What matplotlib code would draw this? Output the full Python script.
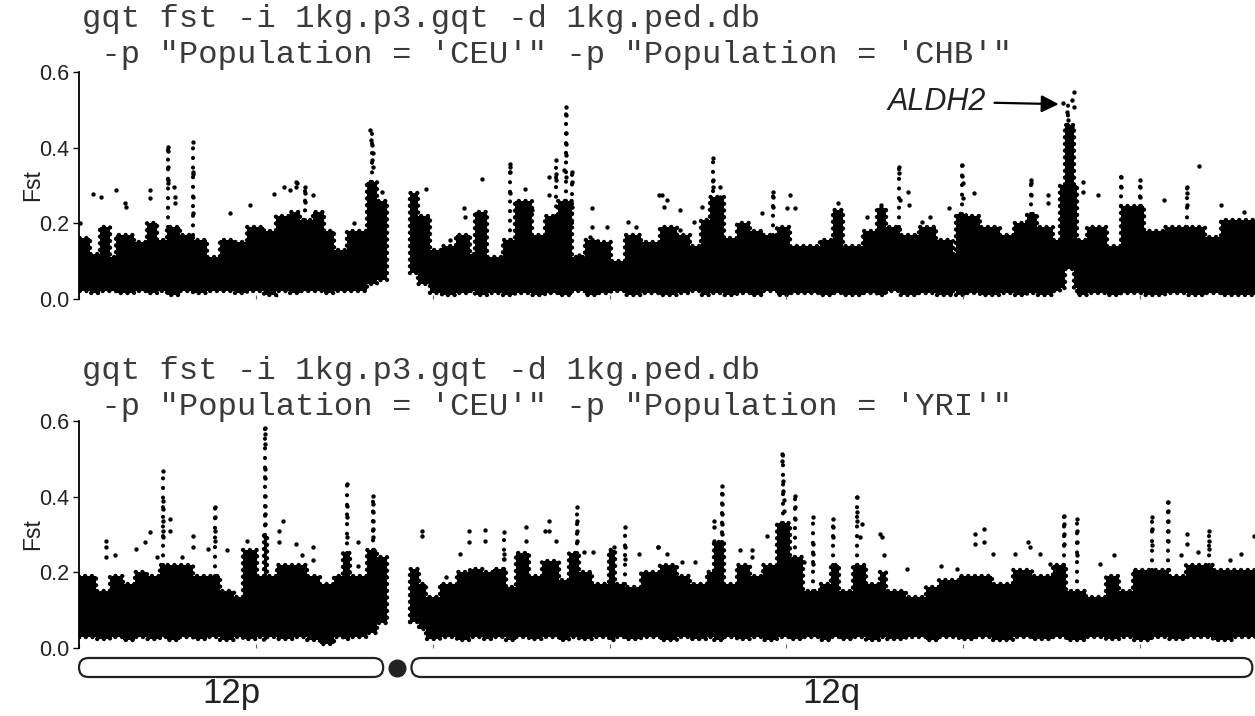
import matplotlib
matplotlib.use("Agg")
import matplotlib.pyplot as plt
from matplotlib.patches import FancyBboxPatch

W, H = 1255, 716
chrom_len = 133.0
p_arm = (0.0, 34.4)
q_arm = (37.6, 132.7)
centromere = 36.0

# ---- CEU vs CHB : dense band (stairs), dotted peak columns, isolated high points ----
chb_p_edges = [0, 1.2, 2.4, 3.5, 4.2, 6.2, 7.7, 8.8, 9.9, 11.4, 12.9, 14.5, 16, 17.5, 19,
               20.9, 22.3, 23.9, 25, 26.5, 27.7, 28.8, 30.3, 32.6, 33.7, 34.8]
chb_p_top = [0.16, 0.12, 0.19, 0.11, 0.17, 0.15, 0.20, 0.155, 0.19, 0.17, 0.155, 0.11, 0.155,
             0.15, 0.19, 0.18, 0.22, 0.23, 0.21, 0.23, 0.18, 0.13, 0.18, 0.31, 0.26]
chb_p_low = [0.02, 0.015, 0.02, 0.02, 0.015, 0.02, 0.015, 0.02, 0.01, 0.02, 0.015, 0.02, 0.02,
             0.015, 0.02, 0.01, 0.02, 0.015, 0.02, 0.02, 0.015, 0.02, 0.02, 0.04, 0.05]

chb_q_edges = [37.4, 38.3, 39.7, 41, 42.6, 44.2, 44.8, 46.1, 48, 49.3, 51.2, 52.7, 54.2, 55.7,
               57.2, 58.7, 60.2, 61.7, 63.6, 65.7, 67.6, 69.1, 70.3, 71.4, 72.9, 74.4, 75.9,
               77.4, 78.9, 80.4, 83.8, 85.3, 86.4, 88.7, 90.2, 91.3, 92.8, 95, 96.9, 98.8, 99.2,
               100.3, 101.9, 104.2, 105.7, 107.2, 108.3, 110.2, 111.0, 111.5, 112.5, 112.9, 114,
               116.3, 117.8, 120.5, 122.8, 125.4, 127.3, 129.2, 133]
chb_q_top = [0.28, 0.22, 0.13, 0.14, 0.17, 0.12, 0.23, 0.11, 0.155, 0.26, 0.17, 0.22, 0.26,
             0.11, 0.155, 0.15, 0.10, 0.17, 0.15, 0.19, 0.17, 0.14, 0.21, 0.27, 0.16, 0.20,
             0.18, 0.17, 0.19, 0.14, 0.155, 0.235, 0.14, 0.18, 0.24, 0.19, 0.17, 0.19, 0.155,
             0.12, 0.225, 0.22, 0.19, 0.17, 0.20, 0.225, 0.19, 0.155, 0.30, 0.46, 0.30, 0.155,
             0.19, 0.14, 0.245, 0.18, 0.19, 0.19, 0.165, 0.21]
chb_q_low = [0.07, 0.04, 0.015, 0.01, 0.015, 0.02, 0.01, 0.015, 0.01, 0.015, 0.01, 0.015, 0.01,
             0.02, 0.01, 0.015, 0.02, 0.01, 0.015, 0.01, 0.015, 0.02, 0.01, 0.015, 0.01, 0.015,
             0.01, 0.02, 0.01, 0.015, 0.01, 0.015, 0.01, 0.015, 0.01, 0.02, 0.01, 0.015, 0.01,
             0.02, 0.01, 0.015, 0.01, 0.015, 0.01, 0.015, 0.01, 0.02, 0.03, 0.08, 0.03, 0.01,
             0.015, 0.01, 0.015, 0.01, 0.015, 0.01, 0.015, 0.01]

chb_col_mb = [10.1, 12.9, 25.6, 33.1, 48.7, 54.0, 55.1, 55.8, 71.7, 78.5, 92.7, 99.9, 107.7,
              111.8, 117.9, 120.0, 125.3]
chb_col_lo = [0.19, 0.17, 0.21, 0.31, 0.155, 0.22, 0.26, 0.20, 0.21, 0.17, 0.19, 0.225, 0.225,
              0.46, 0.245, 0.245, 0.19]
chb_col_hi = [0.40, 0.416, 0.297, 0.447, 0.358, 0.367, 0.508, 0.336, 0.372, 0.284, 0.35,
              0.354, 0.314, 0.53, 0.323, 0.314, 0.297]

chb_pts_mb = [0.1, 1.55, 2.5, 4.2, 5.2, 5.3, 8.0, 8.0, 10.1, 10.1, 10.1, 10.1, 10.1, 10.7, 10.9,
              10.9, 12.9, 12.9, 12.9, 12.9, 12.9, 17.1, 19.3, 22.1, 23.2, 23.9, 24.5, 24.5, 24.6,
              25.6, 25.6, 25.6, 26.5, 31.1, 32.9, 33.0, 33.1, 33.2, 33.1, 33.2, 34.3, 34.1,
              39.2, 42.0, 43.5, 43.6, 45.6, 48.7, 48.7, 48.7, 48.8, 50.4, 51.2, 53.1, 53.1, 54.0,
              54.0, 54.0, 54.8, 55.1, 55.1, 55.1, 55.1, 55.1, 55.1, 55.8, 55.8, 55.8, 56.6, 58.0,
              58.0, 57.8, 59.7, 62.1, 63.0, 65.6, 65.9, 66.2, 66.5, 68.0, 68.0, 69.5, 70.5, 71.7,
              71.7, 71.7, 72.5, 72.5, 77.2, 78.5, 78.5, 78.5, 80.1, 80.4, 81.0,
              85.8, 89.1, 90.7, 92.7, 92.7, 92.9, 93.8, 93.9, 95.3, 96.3, 98.4, 99.9, 99.9, 100.0,
              100.0, 101.2, 107.7, 107.7, 107.7, 109.6, 109.6, 112.5, 112.3, 111.3, 112.5, 111.7,
              111.9, 112.3, 113.6, 113.6, 115.3, 117.9, 117.9, 120.0, 120.0, 120.0, 120.0, 122.7,
              125.3, 125.3, 125.3, 126.7, 129.2, 131.7]
chb_pts_fst = [0.20, 0.277, 0.27, 0.288, 0.253, 0.244, 0.288, 0.266, 0.402, 0.39, 0.35, 0.314,
               0.306, 0.297, 0.27, 0.253, 0.416, 0.336, 0.33, 0.27, 0.226, 0.226, 0.248, 0.277,
               0.297, 0.288, 0.31, 0.297, 0.306, 0.297, 0.28, 0.257, 0.275, 0.20, 0.447, 0.42,
               0.407, 0.385, 0.367, 0.35, 0.284, 0.244,
               0.292, 0.156, 0.24, 0.218, 0.317, 0.358, 0.35, 0.336, 0.28, 0.292, 0.235, 0.323,
               0.275, 0.367, 0.33, 0.314, 0.34, 0.508, 0.486, 0.438, 0.411, 0.38, 0.323, 0.336,
               0.31, 0.244, 0.116, 0.24, 0.19, 0.165, 0.19, 0.204, 0.19, 0.275, 0.275, 0.244,
               0.262, 0.235, 0.182, 0.204, 0.244, 0.372, 0.314, 0.297, 0.297, 0.27, 0.226, 0.284,
               0.27, 0.244, 0.24, 0.275, 0.24,
               0.253, 0.218, 0.248, 0.35, 0.332, 0.262, 0.284, 0.248, 0.204, 0.218, 0.24, 0.354,
               0.325, 0.306, 0.266, 0.279, 0.314, 0.306, 0.275, 0.275, 0.253, 0.548, 0.526, 0.517,
               0.508, 0.495, 0.473, 0.455, 0.31, 0.284, 0.275, 0.323, 0.297, 0.314, 0.297, 0.27,
               0.244, 0.262, 0.297, 0.279, 0.248, 0.351, 0.248, 0.23]

# ---- CEU vs YRI ----
yri_p_edges = [0, 1.9, 3.5, 5, 6.3, 7.7, 9.2, 9.9, 11.4, 12.9, 14.5, 16, 17.5, 18.6, 20.1,
               20.9, 21.3, 22.4, 24.3, 25.8, 27.3, 28.8, 29.9, 30.7, 32.6, 33.7, 34.8]
yri_p_top = [0.19, 0.15, 0.19, 0.17, 0.2, 0.19, 0.22, 0.22, 0.22, 0.19, 0.19, 0.15, 0.135,
             0.26, 0.19, 0.3, 0.19, 0.22, 0.22, 0.19, 0.17, 0.19, 0.25, 0.19, 0.26, 0.24]
yri_p_low = [0.03, 0.025, 0.03, 0.02, 0.03, 0.025, 0.03, 0.02, 0.03, 0.025, 0.03, 0.02, 0.03,
             0.025, 0.03, 0.02, 0.03, 0.025, 0.03, 0.02, 0.01, 0.03, 0.025, 0.03, 0.04, 0.065]

yri_q_edges = [37.4, 38.5, 39.3, 40.8, 42.7, 44.2, 45.7, 46.8, 48.3, 49.4, 50.9, 52.4, 54.3,
               55.4, 56.5, 58, 59.9, 60.6, 61.7, 63.6, 65.7, 67.6, 69.1, 71, 71.8, 72.9, 74.4,
               75.9, 77.4, 78.9, 80.4, 81.9, 83.8, 85.0, 86, 87.5, 89, 90.6, 91.3, 93.5, 95.8,
               97.3, 99.5, 101.4, 103.3, 105.6, 107.8, 110.1, 111.6, 113.9, 116.1, 117.6, 119.2,
               121.4, 123.3, 125.2, 128.2, 130.5, 133]
yri_q_top = [0.21, 0.17, 0.135, 0.17, 0.2, 0.21, 0.2, 0.21, 0.16, 0.25, 0.19, 0.23, 0.18,
             0.25, 0.2, 0.17, 0.26, 0.17, 0.16, 0.2, 0.22, 0.19, 0.17, 0.2, 0.28, 0.17, 0.22,
             0.19, 0.22, 0.33, 0.24, 0.15, 0.17, 0.22, 0.15, 0.22, 0.17, 0.2, 0.15, 0.135,
             0.16, 0.18, 0.19, 0.19, 0.17, 0.205, 0.19, 0.22, 0.15, 0.135, 0.19, 0.15, 0.205,
             0.205, 0.19, 0.22, 0.205, 0.205]
yri_q_low = [0.07, 0.05, 0.025, 0.03, 0.02, 0.03, 0.025, 0.03, 0.02, 0.03, 0.025, 0.03, 0.02,
             0.03, 0.025, 0.03, 0.02, 0.03, 0.025, 0.03, 0.02, 0.03, 0.025, 0.03, 0.02, 0.03,
             0.025, 0.03, 0.02, 0.03, 0.025, 0.03, 0.02, 0.03, 0.025, 0.03, 0.02, 0.03, 0.025,
             0.03, 0.02, 0.03, 0.025, 0.03, 0.02, 0.03, 0.025, 0.03, 0.02, 0.03, 0.025, 0.03,
             0.02, 0.03, 0.025, 0.03, 0.02, 0.03]

yri_col_mb = [9.55, 15.4, 21.05, 30.3, 33.2, 48.1, 56.3, 61.7, 72.7, 79.6, 81.0, 83.0, 85.3,
              87.95, 111.4, 112.9, 121.3, 123.2, 127.8]
yri_col_lo = [0.22, 0.19, 0.30, 0.25, 0.26, 0.21, 0.25, 0.17, 0.28, 0.33, 0.24, 0.15, 0.22,
              0.22, 0.22, 0.15, 0.205, 0.205, 0.22]
yri_col_hi = [0.468, 0.372, 0.582, 0.433, 0.403, 0.306, 0.372, 0.319, 0.429, 0.512, 0.403,
              0.346, 0.341, 0.40, 0.35, 0.341, 0.346, 0.385, 0.31]

yri_pts_mb = [3.06, 3.06, 3.06, 4.1, 6.4, 7.5, 8.0, 8.8, 9.55, 9.55, 9.55, 9.55, 9.55, 9.55,
              10.3, 10.3, 11.6, 12.9, 12.9, 14.6, 15.4, 15.4, 15.4, 15.4, 16.7, 19.0, 21.05,
              21.05, 21.05, 21.05, 21.05, 21.05, 21.05, 21.05, 21.05, 21.05, 22.6, 22.6, 23.1,
              24.5, 25.2, 26.5, 26.5, 30.3, 30.3, 30.3, 30.3, 31.6, 31.6, 33.2, 33.2, 33.2, 33.2,
              33.2, 33.2,
              38.8, 38.8, 41.5, 43.1, 44.1, 44.1, 45.9, 45.9, 48.1, 48.1, 48.1, 50.6, 50.6, 52.7,
              53.2, 53.2, 54.0, 56.3, 56.3, 56.3, 56.3, 57.1, 58.1, 60.5, 61.7, 61.7, 61.7, 63.3,
              65.5, 65.5, 66.5, 68.2, 69.7, 71.8, 71.8, 71.8, 72.7, 72.7, 72.7, 72.7, 72.7, 72.7,
              74.8, 76.1, 76.1, 77.8, 78.9, 79.5, 79.5, 79.6, 79.6, 79.7, 79.7, 81.0, 81.0, 81.0,
              82.0, 83.0, 83.0, 83.0, 83.0,
              85.3, 85.3, 85.3, 87.95, 87.95, 87.95, 88.5, 88.3, 90.6, 90.8, 91.0, 93.6, 97.5,
              99.3, 101.3, 101.3, 102.4, 102.4, 103.4, 105.9, 107.3, 107.6, 108.7, 109.8, 111.4,
              111.4, 111.4, 111.4, 112.9, 112.9, 112.9, 112.9, 115.5, 117.1, 121.3, 121.3, 121.3,
              123.2, 123.2, 123.2, 123.2, 123.2, 124.6, 125.3, 125.3, 126.6, 127.8, 127.8, 127.8,
              130.2, 131.4, 132.9]
yri_pts_fst = [0.284, 0.267, 0.24, 0.245, 0.262, 0.28, 0.306, 0.24, 0.468, 0.389, 0.368, 0.337,
               0.31, 0.293, 0.341, 0.31, 0.24, 0.297, 0.267, 0.262, 0.372, 0.346, 0.31, 0.284,
               0.258, 0.284, 0.582, 0.565, 0.539, 0.473, 0.45, 0.403, 0.376, 0.354, 0.328, 0.293,
               0.31, 0.28, 0.337, 0.275, 0.245, 0.267, 0.232, 0.433, 0.376, 0.346, 0.293, 0.28,
               0.218, 0.403, 0.38, 0.359, 0.337, 0.315, 0.293,
               0.31, 0.297, 0.188, 0.249, 0.31, 0.28, 0.312, 0.284, 0.306, 0.249, 0.236, 0.319,
               0.284, 0.31, 0.337, 0.31, 0.284, 0.372, 0.337, 0.31, 0.284, 0.253, 0.253, 0.267,
               0.319, 0.267, 0.236, 0.249, 0.267, 0.267, 0.249, 0.227, 0.227, 0.337, 0.319, 0.284,
               0.429, 0.407, 0.381, 0.354, 0.328, 0.302, 0.258, 0.258, 0.24, 0.297, 0.275, 0.512,
               0.495, 0.442, 0.416, 0.39, 0.363, 0.403, 0.372, 0.341, 0.227, 0.346, 0.275, 0.249,
               0.223,
               0.341, 0.319, 0.293, 0.4, 0.359, 0.337, 0.328, 0.293, 0.302, 0.293, 0.245, 0.21,
               0.218, 0.21, 0.302, 0.275, 0.315, 0.28, 0.249, 0.249, 0.28, 0.267, 0.249, 0.223,
               0.35, 0.328, 0.302, 0.275, 0.341, 0.31, 0.28, 0.245, 0.223, 0.245, 0.346, 0.315,
               0.271, 0.385, 0.363, 0.337, 0.31, 0.284, 0.245, 0.302, 0.275, 0.254, 0.31, 0.284,
               0.262, 0.232, 0.249, 0.297]

yticks = [0.0, 0.2, 0.4, 0.6]
ytick_labels = ["0.0", "0.2", "0.4", "0.6"]
cmd_line1 = "gqt fst -i 1kg.p3.gqt -d 1kg.ped.db"
cmd_chb = " -p \"Population = 'CEU'\" -p \"Population = 'CHB'\""
cmd_yri = " -p \"Population = 'CEU'\" -p \"Population = 'YRI'\""

plt.rcParams['font.family'] = ['Liberation Sans', 'DejaVu Sans']
mono = ['Liberation Mono', 'DejaVu Sans Mono']

fig = plt.figure(figsize=(W / 100, H / 100), dpi=100)

edge_dots = (0, (0.01, 1.5))
col_dots = (0, (0.01, 2.3))


def draw_panel(ax, p_edges, p_top, p_low, q_edges, q_top, q_low,
               col_mb, col_lo, col_hi, pts_mb, pts_fst):
    for edges, top, low in [(p_edges, p_top, p_low), (q_edges, q_top, q_low)]:
        ax.stairs(top, edges, baseline=low, fill=True, color='black', lw=0)
        # dotted outline to roughen the edge of the dense band
        outline = ax.stairs(top, edges, baseline=low, fill=False, color='black', lw=3.2,
                            linestyle=edge_dots)
        outline.set_capstyle('round')
    ax.vlines(col_mb, col_lo, col_hi, colors='black', lw=3.0, linestyles=col_dots,
              capstyle='round')
    ax.scatter(pts_mb, pts_fst, s=10, c='black', linewidths=0)
    ax.set_xlim(0, chrom_len)
    ax.set_ylim(0, 0.6)
    for side in ['top', 'right', 'bottom']:
        ax.spines[side].set_visible(False)
    ax.spines['left'].set_linewidth(1.3)
    ax.set_yticks(yticks)
    ax.set_yticklabels(ytick_labels)
    ax.tick_params(axis='y', length=4, width=1, pad=3, labelsize=15.5, labelcolor='#222')
    ax.set_xticks(range(0, 121, 20))
    ax.tick_params(axis='x', direction='in', length=3, width=0.8, color='#666',
                   labelbottom=False)


ax_top = fig.add_axes([79 / W, 1 - 299 / H, 1 - 79 / W, 227 / H])
draw_panel(ax_top, chb_p_edges, chb_p_top, chb_p_low, chb_q_edges, chb_q_top, chb_q_low,
           chb_col_mb, chb_col_lo, chb_col_hi, chb_pts_mb, chb_pts_fst)

ax_bot = fig.add_axes([79 / W, 1 - 648 / H, 1 - 79 / W, 227 / H])
draw_panel(ax_bot, yri_p_edges, yri_p_top, yri_p_low, yri_q_edges, yri_q_top, yri_q_low,
           yri_col_mb, yri_col_lo, yri_col_hi, yri_pts_mb, yri_pts_fst)

# command lines above each panel
for y1, y2, line2 in [(19, 55, cmd_chb), (371, 407, cmd_yri)]:
    fig.text(82 / W, 1 - y1 / H, cmd_line1, family=mono, fontsize=23.2, color='#3a3a3a',
             ha='left', va='center')
    fig.text(82 / W, 1 - y2 / H, line2, family=mono, fontsize=23.2, color='#3a3a3a',
             ha='left', va='center')

for yc in [185, 534]:
    fig.text(33 / W, 1 - yc / H, 'Fst', rotation=90, fontsize=16.5, color='#222',
             ha='center', va='center')

ax_top.annotate('ALDH2', xy=(110.8, 0.515), xytext=(102.6, 0.522), ha='right', va='center',
                fontsize=22, style='italic', color='#222',
                arrowprops=dict(arrowstyle='-|>', color='black', lw=1.6, mutation_scale=26,
                                shrinkA=4, shrinkB=0))

# chromosome ideogram
ax_id = fig.add_axes([79 / W, 1 - 684 / H, 1 - 79 / W, 30 / H])
ax_id.set_xlim(0, chrom_len)
ax_id.set_ylim(0, 30)
ax_id.axis('off')
px_per_mb = (W - 79) / chrom_len
for a0, a1 in [p_arm, q_arm]:
    ax_id.add_patch(FancyBboxPatch((a0, 7), a1 - a0, 19,
                                   boxstyle="round,pad=0,rounding_size=%.3f" % (9.5 / px_per_mb),
                                   mutation_aspect=px_per_mb, fc='white', ec='#222', lw=1.6,
                                   clip_on=False))
ax_id.plot([centromere], [16.5], 'o', ms=12, color='#222', clip_on=False)
ax_id.text(sum(p_arm) / 2, -9, '12p', fontsize=25, color='#222', ha='center', va='center')
ax_id.text(sum(q_arm) / 2, -9, '12q', fontsize=25, color='#222', ha='center', va='center')

fig.savefig('out.png', dpi=100)
